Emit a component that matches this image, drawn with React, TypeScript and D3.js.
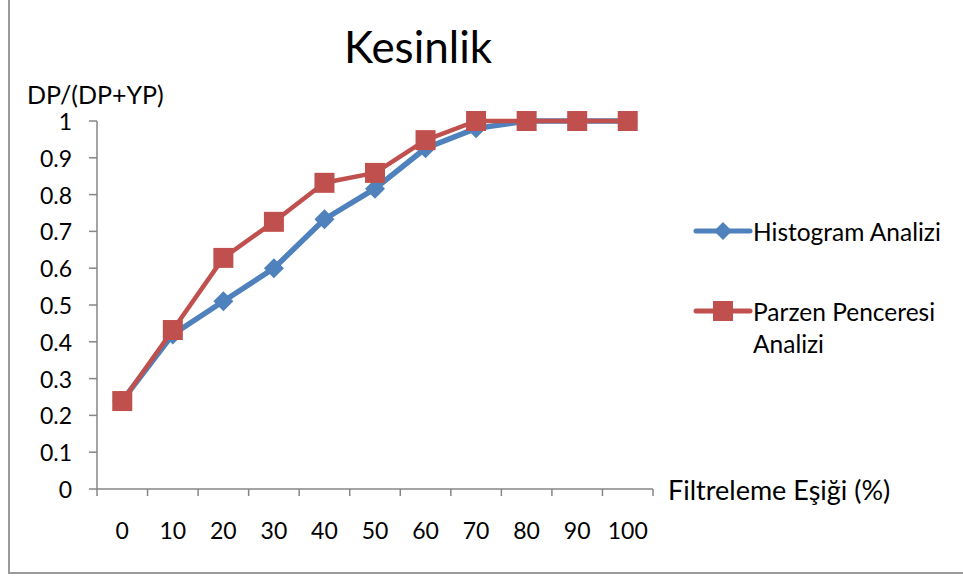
import React from "react";
import * as d3 from "d3";

const categories = ["0", "10", "20", "30", "40", "50", "60", "70", "80", "90", "100"];
const histogramValues = [0.24, 0.42, 0.51, 0.6, 0.733, 0.816, 0.926, 0.98, 1.0, 1.0, 1.0];
const parzenValues = [0.239, 0.432, 0.628, 0.726, 0.832, 0.859, 0.948, 1.0, 1.0, 1.0, 1.0];
const yTicks = [0, 0.1, 0.2, 0.3, 0.4, 0.5, 0.6, 0.7, 0.8, 0.9, 1];

const FONT = "Lato, 'Open Sans', sans-serif";
const BLUE = "#4F81BD";
const RED = "#C0504D";
const AXIS = "#868686";

export default function App() {
  const left = 97;
  const right = 653;
  const top = 121;
  const bottom = 489;

  const x = d3.scaleBand<string>().domain(categories).range([left, right]).paddingInner(0).paddingOuter(0);
  const y = d3.scaleLinear().domain([0, 1]).range([bottom, top]);
  const cx = (c: string) => (x(c) as number) + x.bandwidth() / 2;

  const line = d3
    .line<number>()
    .x((_, i) => cx(categories[i]))
    .y((d) => y(d));

  const tickXs = d3.range(categories.length + 1).map((i) => left + i * x.bandwidth());

  const diamond = (px: number, py: number, r: number) =>
    `M${px},${py - r}L${px + r},${py}L${px},${py + r}L${px - r},${py}Z`;

  return (
    <svg
      width={963}
      height={576}
      style={{ position: "absolute", left: 0, top: 0, background: "#fff" }}
    >
      <rect x={0} y={0} width={963} height={576} fill="#fff" />
      {/* outer border (left + bottom visible) */}
      <line x1={9} y1={0} x2={9} y2={573} stroke="#9a9a9a" strokeWidth={2} />
      <line x1={8} y1={573} x2={963} y2={573} stroke="#9a9a9a" strokeWidth={2} />

      {/* title */}
      <text x={418} y={46} textAnchor="middle" dominantBaseline="central" fontFamily={FONT} fontSize={44} fill="#000">
        Kesinlik
      </text>

      {/* y axis label */}
      <text x={27} y={94} dominantBaseline="central" fontFamily={FONT} fontSize={25} fill="#000">
        DP/(DP+YP)
      </text>

      {/* y axis */}
      <line x1={left} y1={top} x2={left} y2={bottom} stroke={AXIS} strokeWidth={1.5} />
      {yTicks.map((t) => (
        <g key={t}>
          <line x1={left - 8} x2={left} y1={y(t)} y2={y(t)} stroke={AXIS} strokeWidth={1.5} />
          <text
            x={72}
            y={y(t)}
            textAnchor="end"
            dominantBaseline="central"
            fontFamily={FONT}
            fontSize={23}
            fill="#000"
          >
            {t}
          </text>
        </g>
      ))}

      {/* x axis */}
      <line x1={left} y1={bottom} x2={right} y2={bottom} stroke={AXIS} strokeWidth={1.5} />
      {tickXs.map((tx, i) => (
        <line key={i} x1={tx} x2={tx} y1={bottom} y2={bottom + 7} stroke={AXIS} strokeWidth={1.5} />
      ))}
      {categories.map((c) => (
        <text
          key={c}
          x={cx(c)}
          y={530}
          textAnchor="middle"
          dominantBaseline="central"
          fontFamily={FONT}
          fontSize={23}
          fill="#000"
        >
          {c}
        </text>
      ))}
      <text x={668} y={489} dominantBaseline="central" fontFamily={FONT} fontSize={27} fill="#000">
        Filtreleme Eşiği (%)
      </text>

      {/* series */}
      <path d={line(histogramValues) || ""} fill="none" stroke={BLUE} strokeWidth={5.5} strokeLinejoin="round" />
      {histogramValues.map((v, i) => (
        <path key={"h" + i} d={diamond(cx(categories[i]), y(v), 10)} fill={BLUE} />
      ))}
      <path d={line(parzenValues) || ""} fill="none" stroke={RED} strokeWidth={4.5} strokeLinejoin="round" />
      {parzenValues.map((v, i) => (
        <rect key={"p" + i} x={cx(categories[i]) - 10} y={y(v) - 10} width={20} height={20} fill={RED} />
      ))}

      {/* legend */}
      <line x1={696} x2={750} y1={231} y2={231} stroke={BLUE} strokeWidth={5} strokeLinecap="round" />
      <path d={diamond(723, 231, 9)} fill={BLUE} />
      <text x={753} y={231} dominantBaseline="central" fontFamily={FONT} fontSize={24.5} fill="#000">
        Histogram Analizi
      </text>

      <line x1={696} x2={750} y1={311} y2={311} stroke={RED} strokeWidth={5} strokeLinecap="round" />
      <rect x={713} y={301} width={20} height={20} fill={RED} />
      <text x={753} y={311} dominantBaseline="central" fontFamily={FONT} fontSize={24.5} fill="#000">
        Parzen Penceresi
      </text>
      <text x={753} y={343} dominantBaseline="central" fontFamily={FONT} fontSize={24.5} fill="#000">
        Analizi
      </text>
    </svg>
  );
}
